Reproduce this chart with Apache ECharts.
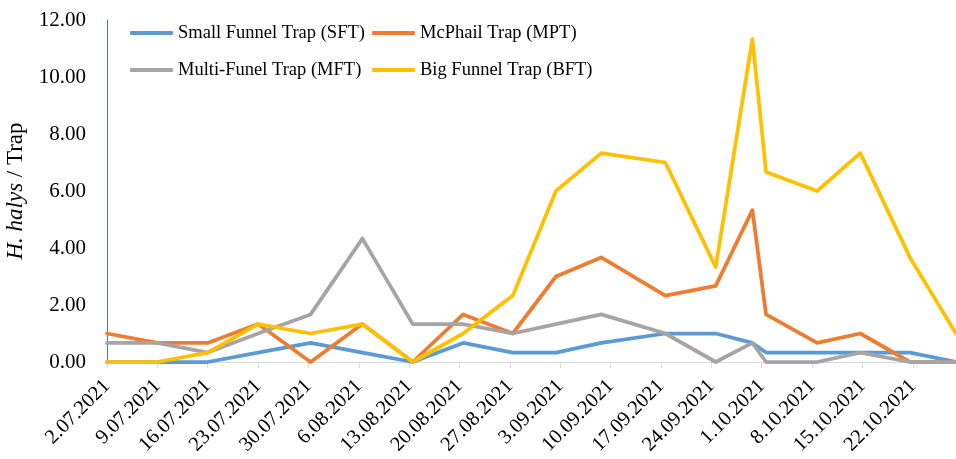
<!DOCTYPE html>
<html><head><meta charset="utf-8">
<script src="https://cdn.jsdelivr.net/npm/echarts@6/dist/echarts.min.js"></script>
<style>html,body{margin:0;padding:0;background:#fff}#c{width:956px;height:459px}</style>
</head><body><div id="c"></div>
<script>
// Series names
const seriesNames = ['Small Funnel Trap (SFT)', 'McPhail Trap (MPT)', 'Multi-Funel Trap (MFT)', 'Big Funnel Trap (BFT)'];
// Sampling dates as days after 2.07.2021
const sampleDays = [0, 7, 14, 21, 28.3, 35.5, 42.5, 49.5, 56.4, 62.4, 68.7, 77.6, 84.6, 89.7, 91.6, 98.7, 104.7, 111.6, 118];
// H. halys per trap
const sft = [0, 0, 0, 0.33, 0.67, 0.33, 0, 0.67, 0.33, 0.33, 0.67, 1.0, 1.0, 0.67, 0.33, 0.33, 0.33, 0.33, 0];
const mpt = [1.0, 0.67, 0.67, 1.33, 0, 1.33, 0, 1.67, 1.0, 3.0, 3.67, 2.33, 2.67, 5.33, 1.67, 0.67, 1.0, 0, 0];
const mft = [0.67, 0.67, 0.33, 1.0, 1.67, 4.33, 1.33, 1.33, 1.0, 1.33, 1.67, 1.0, 0, 0.67, 0, 0, 0.33, 0, 0];
const bft = [0, 0, 0.33, 1.33, 1.0, 1.33, 0, 1.0, 2.33, 6.0, 7.33, 7.0, 3.33, 11.33, 6.67, 6.0, 7.33, 3.67, 1.0];
// X tick labels (weekly) and their day offsets
const tickLabels = ['2.07.2021', '9.07.2021', '16.07.2021', '23.07.2021', '30.07.2021', '6.08.2021', '13.08.2021', '20.08.2021', '27.08.2021', '3.09.2021', '10.09.2021', '17.09.2021', '24.09.2021', '1.10.2021', '8.10.2021', '15.10.2021', '22.10.2021'];
const tickDays = [0, 7, 14, 21, 28, 35, 42, 49, 56, 63, 70, 77, 84, 91, 98, 105, 112];

const colors = ['#5B9BD5', '#ED7D31', '#A5A5A5', '#FFC000'];
const values = [sft, mpt, mft, bft];
const FONT = '"Liberation Serif", "Times New Roman", serif';

const chart = echarts.init(document.getElementById('c'), null, {renderer: 'canvas'});

const legendPos = [[130, 23], [372, 23], [130, 60], [372, 60]];
const legends = seriesNames.map((n, i) => ({
  data: [n], left: legendPos[i][0], top: legendPos[i][1],
  icon: 'roundRect', itemWidth: 43, itemHeight: 4, itemGap: 0, padding: 0,
  selectedMode: false,
  textStyle: {fontFamily: FONT, fontSize: 18.5, color: '#000', lineHeight: 20}
}));

chart.setOption({
  animation: false,
  backgroundColor: '#fff',
  grid: {left: 107, right: 0, top: 20, bottom: 97, containLabel: false, outerBoundsMode: 'none'},
  legend: legends,
  xAxis: {
    type: 'value', min: 0, max: 118,
    splitLine: {show: false},
    axisLine: {show: true, lineStyle: {color: '#D9D9D9', width: 1}},
    axisTick: {show: true, customValues: tickDays, length: 6, lineStyle: {color: '#D9D9D9'}},
    axisLabel: {
      customValues: tickDays, rotate: 45, margin: 21,
      fontFamily: FONT, fontSize: 20.5, color: '#000',
      formatter: v => { const i = tickDays.indexOf(v); return i >= 0 ? tickLabels[i] : ''; }
    }
  },
  yAxis: {
    type: 'value', min: 0, max: 12, interval: 2,
    splitLine: {show: false},
    axisLine: {show: true, lineStyle: {color: '#4472C4', width: 1}},
    axisTick: {show: false},
    axisLabel: {margin: 21, fontFamily: FONT, fontSize: 21, color: '#000', formatter: v => v.toFixed(2)},
    name: '{i|H. halys} / Trap',
    nameLocation: 'middle', nameGap: 75,
    nameTextStyle: {
      fontFamily: FONT, fontSize: 23, color: '#000',
      rich: {i: {fontFamily: FONT, fontSize: 23, fontStyle: 'italic', color: '#000'}}
    }
  },
  series: seriesNames.map((n, i) => ({
    name: n, type: 'line', color: colors[i],
    symbol: 'none', showSymbol: false,
    lineStyle: {width: 3.75, color: colors[i], join: 'round', cap: 'round'},
    data: sampleDays.map((d, k) => [d, values[i][k]])
  }))
});
</script>
</body></html>
